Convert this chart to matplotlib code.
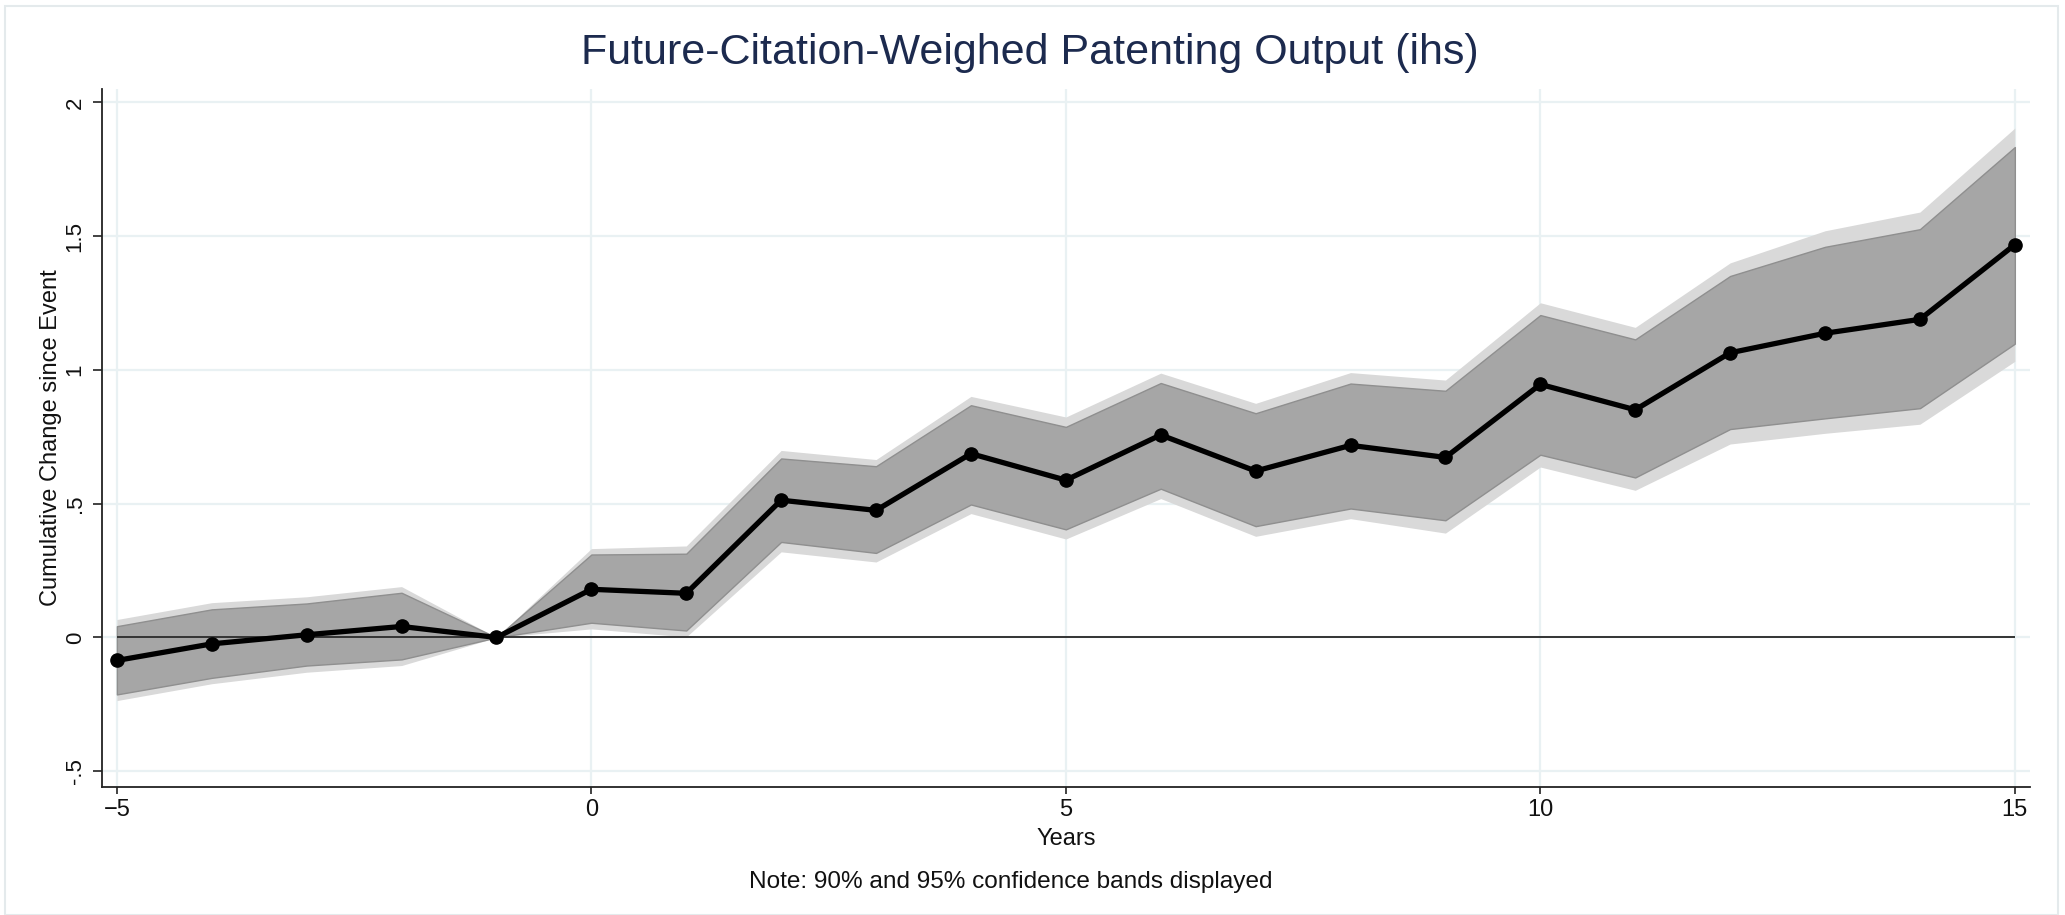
import matplotlib
matplotlib.use("Agg")
import matplotlib.pyplot as plt
from matplotlib.patches import Rectangle

years = [-5, -4, -3, -2, -1, 0, 1, 2, 3, 4, 5, 6, 7, 8, 9, 10, 11, 12, 13, 14, 15]
coef = [-0.086, -0.024, 0.01, 0.041, 0.0, 0.18, 0.165, 0.513, 0.475, 0.687, 0.588, 0.757,
        0.622, 0.718, 0.673, 0.946, 0.851, 1.064, 1.137, 1.189, 1.468]
ci90_hi = [0.042, 0.105, 0.127, 0.167, 0.0, 0.31, 0.313, 0.669, 0.64, 0.868, 0.787, 0.951,
           0.838, 0.949, 0.922, 1.205, 1.114, 1.351, 1.46, 1.526, 1.833]
ci90_lo = [-0.213, -0.151, -0.105, -0.082, 0.0, 0.055, 0.026, 0.357, 0.316, 0.497, 0.404, 0.556,
           0.416, 0.482, 0.438, 0.683, 0.598, 0.779, 0.819, 0.857, 1.098]
ci95_hi = [0.067, 0.13, 0.152, 0.19, 0.0, 0.332, 0.342, 0.699, 0.665, 0.901, 0.824, 0.988,
           0.875, 0.99, 0.962, 1.251, 1.159, 1.40, 1.52, 1.59, 1.904]
ci95_lo = [-0.236, -0.173, -0.13, -0.105, 0.0, 0.032, 0.002, 0.32, 0.282, 0.463, 0.368, 0.519,
           0.378, 0.444, 0.39, 0.637, 0.55, 0.723, 0.763, 0.797, 1.032]

xticks = [-5, 0, 5, 10, 15]
yticks = [-0.5, 0, 0.5, 1, 1.5, 2]
ytick_labels = ["-.5", "0", ".5", "1", "1.5", "2"]

title = "Future-Citation-Weighed Patenting Output (ihs)"
xlabel = "Years"
ylabel = "Cumulative Change since Event"
note = "Note: 90% and 95% confidence bands displayed"

plt.rcParams['font.family'] = ['Liberation Sans', 'DejaVu Sans']

W, H = 2065, 915
fig = plt.figure(figsize=(W / 100, H / 100), dpi=100)
fig.patch.set_facecolor('white')

# outer frame
fig.patches.append(Rectangle((5 / W, 0.0), 2053 / W, 1 - 6 / H, transform=fig.transFigure,
                             fill=False, edgecolor='#e4eaec', linewidth=1.5))

ax = fig.add_axes([101.7 / W, 1 - 787 / H, (2030 - 101.7) / W, (787 - 89) / H])
ax.set_xlim(-5.16, 15.16)
ax.set_ylim(-0.559, 2.05)

for s in ['top', 'right']:
    ax.spines[s].set_visible(False)
for s in ['left', 'bottom']:
    ax.spines[s].set_color('#222222')
    ax.spines[s].set_linewidth(1.3)

ax.set_xticks(xticks)
ax.set_yticks(yticks)
ax.set_yticklabels(ytick_labels, rotation=90, va='center')
ax.tick_params(axis='both', direction='out', width=1.2, color='#222222',
               labelsize=17, labelcolor='#111111')
ax.tick_params(axis='x', length=5, pad=4)
ax.tick_params(axis='y', length=6.5, pad=5, labelsize=16)

ax.grid(True, color='#e9f1f3', linewidth=1.6)
ax.set_axisbelow(True)

ax.fill_between(years, ci95_lo, ci95_hi, color='#d9d9d9', linewidth=0, zorder=2)
ax.fill_between(years, ci90_lo, ci90_hi, facecolor='#a6a6a6', edgecolor='#8f8f8f',
                linewidth=1.0, zorder=3)
ax.hlines(0, years[0], years[-1], color='#333333', linewidth=1.4, zorder=4)
ax.plot(years, coef, color='black', linewidth=3.8, marker='o', markersize=9.5, zorder=5)

ax.set_xlabel(xlabel, fontsize=17, color='#111111', labelpad=5)
ax.set_ylabel(ylabel, fontsize=17, color='#111111', labelpad=2)

fig.text(1030 / W, 1 - 53 / H, title, ha='center', va='center',
         fontsize=31, color='#1c2a4e')
fig.text(1011 / W, 1 - 882 / H, note, ha='center', va='center', fontsize=17.6, color='#111111')

fig.savefig('out.png', dpi=100, facecolor='white')
